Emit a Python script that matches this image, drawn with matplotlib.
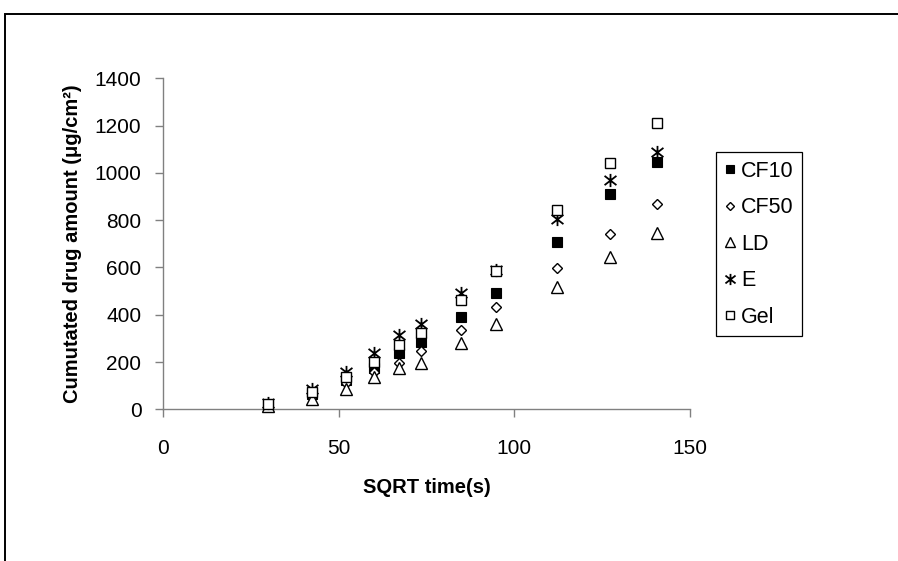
import matplotlib
matplotlib.use("Agg")
import matplotlib.pyplot as plt
from matplotlib.path import Path
from matplotlib.patches import Rectangle

plt.rcParams['font.family'] = ['Liberation Sans', 'DejaVu Sans']

# Square root of sampling time (s^0.5)
sqrt_time = [30.0, 42.4, 52.0, 60.0, 67.1, 73.5, 84.9, 94.9, 112.2, 127.3, 140.7]

# Cumulative permeated amount (ug/cm2) for each formulation
cf10 = [18, 65, 124, 173, 237, 285, 392, 491, 706, 909, 1047]
cf50 = [15, 53, 110, 159, 195, 248, 335, 434, 596, 743, 867]
ld   = [12, 42, 85, 138, 173, 197, 282, 361, 519, 643, 747]
e    = [25, 85, 159, 239, 314, 361, 491, 589, 804, 970, 1090]
gel  = [22, 75, 135, 201, 272, 321, 462, 586, 843, 1043, 1212]

series_names = ["CF10", "CF50", "LD", "E", "Gel"]
x_ticks = [0, 50, 100, 150]
y_ticks = [0, 200, 400, 600, 800, 1000, 1200, 1400]

# Star marker: vertical stroke crossed by a wide X
star = Path([(0, -1), (0, 1), (-0.9, -0.7), (0.9, 0.7), (-0.9, 0.7), (0.9, -0.7)],
            [Path.MOVETO, Path.LINETO, Path.MOVETO, Path.LINETO, Path.MOVETO, Path.LINETO])

W, H = 898, 561
fig = plt.figure(figsize=(W / 100, H / 100), dpi=100)

# Outer chart frame
fig.patches.append(Rectangle((5 / W, -0.1), 1.2, (H - 14) / H + 0.1, transform=fig.transFigure,
                             fill=False, edgecolor='black', linewidth=1.4))

ax = fig.add_axes([163 / W, (H - 409.3) / H, 527 / W, 331 / H])

styles = [
    dict(marker='s', markersize=6.8, markerfacecolor='black', markeredgecolor='black', markeredgewidth=0.8),
    dict(marker='D', markersize=5.3, markerfacecolor='white', markeredgecolor='black', markeredgewidth=1.0),
    dict(marker='^', markersize=8.0, markerfacecolor='white', markeredgecolor='black', markeredgewidth=1.0),
    dict(marker=star, markersize=9.5, markerfacecolor='none', markeredgecolor='black', markeredgewidth=1.3),
    dict(marker='s', markersize=6.8, markerfacecolor='white', markeredgecolor='black', markeredgewidth=1.0),
]
data = [cf10, cf50, ld, e, gel]
for i, (name, ys, st) in enumerate(zip(series_names, data, styles)):
    ax.plot(sqrt_time, ys, linestyle='none', label=name, zorder=3 + i, clip_on=False, **st)

ax.set_xlim(0, 150)
ax.set_ylim(0, 1400)
ax.set_xticks(x_ticks)
ax.set_yticks(y_ticks)
for side in ('top', 'right'):
    ax.spines[side].set_visible(False)
for side in ('left', 'bottom'):
    ax.spines[side].set_color('#808080')
    ax.spines[side].set_linewidth(1.0)
ax.tick_params(axis='both', direction='out', length=5.5, width=1.0, color='#808080',
               labelsize=15, labelcolor='black')
ax.tick_params(axis='y', pad=10)
ax.tick_params(axis='x', pad=16)

ax.set_xlabel("SQRT time(s)", fontsize=14.5, fontweight='bold', labelpad=14)
ax.set_ylabel("Cumutated drug amount (μg/cm²)", fontsize=14.5, fontweight='bold', labelpad=9)

leg = ax.legend(loc='upper left', bbox_to_anchor=(716 / W, 1 - 152 / H),
                bbox_transform=fig.transFigure, borderaxespad=0, fontsize=15.5,
                frameon=True, fancybox=False, edgecolor='black', framealpha=1,
                handlelength=0.5, handletextpad=0.25, borderpad=0.4,
                labelspacing=0.72, markerscale=0.85)
leg.get_frame().set_linewidth(0.9)

fig.savefig("out.png", dpi=100)
